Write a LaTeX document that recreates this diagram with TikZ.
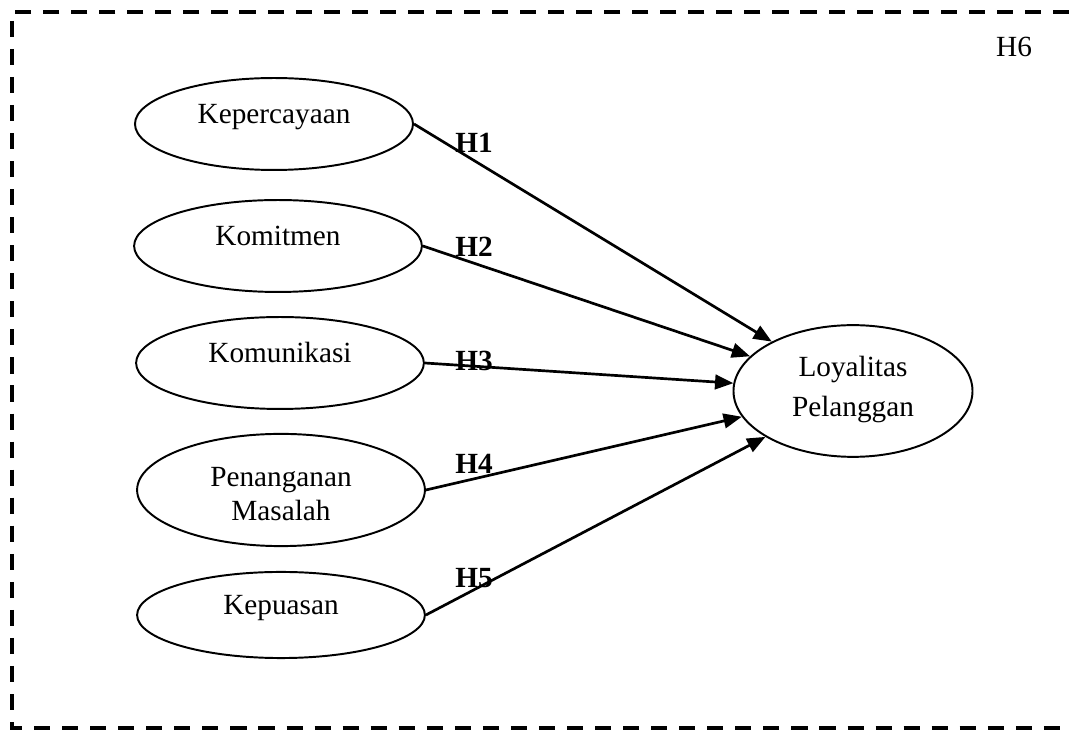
\documentclass[tikz,border=0pt]{standalone}
\usepackage{fontspec}
\setmainfont{Liberation Serif}
\usetikzlibrary{shapes.geometric,arrows.meta}

\begin{document}
\begin{tikzpicture}[x=0.41pt,y=-0.41pt,
    var/.style={ellipse,draw,line width=0.8pt,inner sep=0pt,align=center,
      minimum width=118pt,minimum height=37.7pt,
      font=\fontsize{12}{14}\selectfont,text height=6pt,text depth=6pt},
    arr/.style={line width=1.1pt,-{Triangle[length=7.5pt,width=6pt]}},
    hlab/.style={inner sep=0pt,font=\fontsize{12}{14}\selectfont\bfseries},
    frame/.style={line width=1.6pt,dash pattern=on 6.6pt off 4.9pt}]
  \useasboundingbox (0,0) rectangle (1069,731);
  \draw[frame] (1069,12) -- (12,12) -- (12,728) -- (1069,728);
  \node[inner sep=0pt,font=\fontsize{12}{14}\selectfont] (h6) at (1014,47) {H6};
  % variabel bebas
  \node[var,minimum width=114pt] (kep) at (274,124) {Kepercayaan};
  \node[var] (kom) at (278,246) {Komitmen};
  \node[var] (kmn) at (280,363) {Komunikasi};
  \node[var,minimum height=46pt,text height=28.4pt,text depth=3pt]
    (pen) at (281,490) {Penanganan\\Masalah};
  \node[var,minimum height=35.3pt] (kps) at (281,615) {Kepuasan};
  % variabel terikat
  \node[var,minimum width=98pt,minimum height=54pt,text height=24.3pt,text depth=3pt]
    (loy) at (853,391) {Loyalitas\\[2.5pt]Pelanggan};
  \foreach \s in {kep,kom,kmn,pen,kps}{
    \draw[arr] (\s.east) -- (loy);
  }
  \foreach \i/\y in {1/143,2/247,3/361,4/464,5/578}{
    \node[hlab] (h\i) at (474,\y) {H\i};
  }
\end{tikzpicture}
\end{document}
